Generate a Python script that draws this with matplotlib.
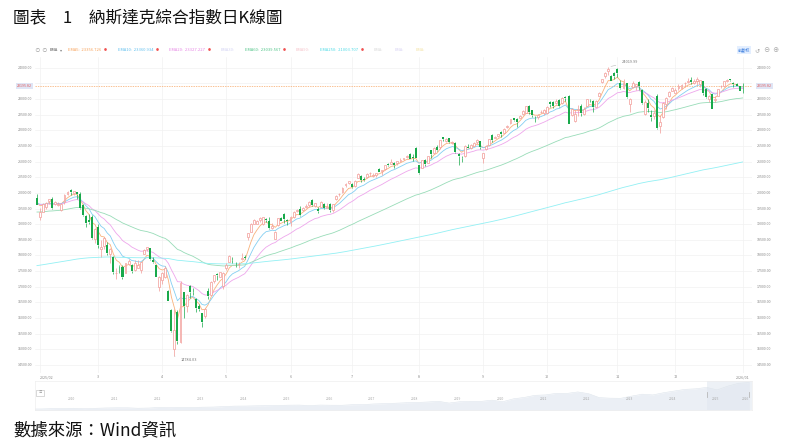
import matplotlib.pyplot as plt
import numpy as np
import pandas as pd
from matplotlib.patches import Rectangle

plt.rcParams['font.family'] = ['Noto Sans CJK TC', 'DejaVu Sans']

W, H = 793, 445

# trading days (NASDAQ calendar)
holidays = ['2025-02-17', '2025-04-18', '2025-05-26', '2025-06-19', '2025-07-04',
            '2025-09-01', '2025-11-27', '2025-12-25', '2026-01-01']

# daily candles: (open, high, low, close)
jan31 = [(19832, 19963, 19609, 19627)]
feb = [(19215, 19517, 19141, 19392), (19399, 19675, 19379, 19654), (19557, 19713, 19472, 19692),
       (19732, 19800, 19635, 19792), (19800, 19862, 19490, 19523), (19640, 19733, 19600, 19714),
       (19619, 19704, 19590, 19644), (19459, 19685, 19430, 19650), (19722, 19958, 19657, 19946),
       (19967, 20045, 19946, 20027), (20080, 20110, 19930, 20041), (19990, 20070, 19940, 20056),
       (20030, 20042, 19820, 19962), (19980, 20016, 19500, 19524), (19620, 19640, 19270, 19287),
       (19260, 19300, 18900, 19026), (19120, 19340, 18990, 19075), (19240, 19280, 18540, 18544),
       (18540, 18870, 18400, 18847)]
mar = [(18920, 18990, 18230, 18350), (18220, 18500, 17956, 18285), (18290, 18600, 18200, 18553),
       (18330, 18420, 18030, 18069), (18050, 18240, 17768, 18196), (17940, 17980, 17400, 17468),
       (17430, 17600, 17240, 17436), (17650, 17700, 17450, 17648), (17630, 17680, 17240, 17303),
       (17450, 17770, 17440, 17754), (17740, 17900, 17720, 17809), (17700, 17720, 17450, 17504),
       (17540, 17870, 17500, 17751), (17610, 17850, 17600, 17692), (17520, 17800, 17430, 17784),
       (18060, 18200, 18050, 18189), (18210, 18280, 18150, 18272), (18230, 18240, 17860, 17899),
       (17840, 17950, 17750, 17804), (17690, 17700, 17300, 17323), (17000, 17330, 16854, 17299)]
apr = [(17200, 17460, 17100, 17450), (17300, 17660, 17290, 17601), (16850, 16900, 16540, 16551),
       (16260, 16290, 15570, 15588), (15000, 16292, 14784.03, 15603), (16200, 16250, 15180, 15268),
       (15220, 17170, 15200, 17125), (16820, 16830, 16000, 16387), (16390, 16760, 16200, 16724),
       (17040, 17070, 16650, 16831), (16840, 16950, 16750, 16823), (16600, 16650, 16200, 16307),
       (16400, 16440, 16240, 16286), (16150, 16170, 15700, 15871), (16050, 16330, 16000, 16300),
       (16860, 16970, 16600, 16708), (16750, 17180, 16740, 17166), (17170, 17390, 17110, 17383),
       (17400, 17450, 17200, 17366), (17320, 17480, 17300, 17461), (17040, 17460, 16920, 17446)]
may = [(17600, 17760, 17550, 17711), (17800, 18010, 17790, 17978), (17860, 17940, 17770, 17844),
       (17700, 17780, 17640, 17690), (17720, 17800, 17600, 17738), (17900, 18070, 17840, 17928),
       (17960, 18000, 17880, 17929), (18600, 18720, 18500, 18708), (18750, 19040, 18740, 19010),
       (19020, 19170, 19000, 19147), (19020, 19130, 18990, 19112), (19140, 19220, 19060, 19211),
       (18990, 19230, 18980, 19215), (19170, 19190, 19080, 19143), (19100, 19220, 18850, 18873),
       (18870, 19030, 18860, 18926), (18530, 18770, 18520, 18737), (18960, 19200, 18930, 19199),
       (19210, 19240, 19090, 19101), (19330, 19350, 19050, 19176), (19140, 19170, 18970, 19114)]
jun = [(19060, 19250, 18950, 19243), (19240, 19420, 19200, 19399), (19430, 19490, 19400, 19460),
       (19480, 19580, 19250, 19298), (19450, 19550, 19420, 19530), (19560, 19640, 19520, 19591),
       (19600, 19740, 19560, 19715), (19760, 19810, 19570, 19616), (19570, 19680, 19560, 19662),
       (19480, 19560, 19370, 19407), (19550, 19740, 19540, 19701), (19650, 19670, 19500, 19521),
       (19530, 19680, 19520, 19546), (19640, 19680, 19400, 19447), (19460, 19640, 19400, 19631),
       (19800, 19940, 19770, 19913), (19960, 20010, 19890, 19974), (20030, 20190, 20000, 20168),
       (20240, 20310, 20180, 20273), (20330, 20390, 20270, 20370)]
jul = [(20280, 20330, 20150, 20203), (20210, 20400, 20200, 20393), (20490, 20620, 20480, 20601),
       (20550, 20570, 20340, 20413), (20440, 20500, 20380, 20418), (20500, 20650, 20480, 20611),
       (20630, 20660, 20530, 20631), (20530, 20620, 20500, 20586), (20560, 20650, 20520, 20640),
       (20760, 20800, 20660, 20678), (20690, 20740, 20560, 20730), (20750, 20900, 20740, 20886),
       (20930, 20950, 20860, 20896), (20930, 21080, 20920, 20974), (20970, 20980, 20780, 20893),
       (20960, 21030, 20880, 21020), (21030, 21110, 21000, 21058), (21070, 21110, 21040, 21108),
       (21140, 21200, 21100, 21179), (21250, 21290, 21070, 21098), (21150, 21240, 21010, 21130),
       (21450, 21460, 21100, 21122)]
aug = [(20880, 20890, 20600, 20650), (20790, 21060, 20780, 21054), (21040, 21080, 20870, 20917),
       (20960, 21190, 20940, 21169), (21370, 21380, 21100, 21243), (21290, 21460, 21280, 21450),
       (21460, 21520, 21350, 21385), (21480, 21690, 21400, 21682), (21780, 21800, 21650, 21713),
       (21650, 21740, 21630, 21711), (21750, 21760, 21600, 21623), (21600, 21660, 21570, 21630),
       (21600, 21620, 21260, 21315), (21250, 21260, 20900, 21173), (21130, 21190, 21000, 21100),
       (21170, 21540, 21150, 21497), (21470, 21560, 21440, 21449), (21420, 21560, 21400, 21544),
       (21500, 21620, 21490, 21590), (21630, 21720, 21550, 21705), (21660, 21670, 21410, 21456)]
sep = [(21130, 21290, 20970, 21280), (21400, 21530, 21380, 21498), (21530, 21710, 21510, 21708),
       (21840, 21880, 21620, 21700), (21760, 21820, 21740, 21799), (21820, 21880, 21770, 21879),
       (21960, 21980, 21800, 21886), (21920, 22060, 21900, 22043), (22090, 22180, 22070, 22141),
       (22220, 22350, 22200, 22349), (22380, 22390, 22310, 22334), (22350, 22400, 22100, 22261),
       (22400, 22500, 22380, 22471), (22530, 22650, 22500, 22631), (22560, 22790, 22550, 22789),
       (22790, 22800, 22520, 22573), (22640, 22650, 22440, 22498), (22390, 22450, 22250, 22385),
       (22420, 22520, 22350, 22484), (22570, 22650, 22540, 22591), (22550, 22670, 22490, 22660)]
oct_ = [(22560, 22770, 22530, 22755), (22890, 22920, 22750, 22844), (22900, 22940, 22700, 22781),
        (22880, 22990, 22840, 22942), (22980, 23000, 22740, 22788), (22870, 23050, 22850, 23043),
        (23070, 23090, 22930, 23025), (23080, 23140, 22200, 22204), (22500, 22700, 22460, 22695),
        (22300, 22650, 22250, 22522), (22660, 22800, 22450, 22670), (22780, 22830, 22460, 22563),
        (22520, 22750, 22490, 22680), (22780, 23010, 22770, 22991), (22980, 23000, 22890, 22954),
        (22950, 22980, 22590, 22740), (22760, 22960, 22740, 22942), (23110, 23230, 23090, 23205),
        (23530, 23650, 23520, 23637), (23720, 23850, 23680, 23827), (23890, 24019.99, 23780, 23958),
        (23740, 23780, 23560, 23581), (23830, 23860, 23650, 23725)]
nov = [(23960, 23990, 23700, 23835), (23500, 23600, 23330, 23349), (23350, 23650, 23310, 23500),
       (23500, 23510, 23030, 23054), (22850, 23020, 22600, 23005), (23370, 23560, 23350, 23527),
       (23420, 23480, 23280, 23468), (23540, 23560, 23290, 23406), (23300, 23320, 22840, 22870),
       (22520, 22980, 22500, 22901), (22880, 23000, 22600, 22708), (22500, 22640, 22300, 22433),
       (22470, 22650, 22350, 22564), (23110, 23150, 22050, 22078), (22150, 22500, 21900, 22273),
       (22420, 22900, 22400, 22872), (22850, 23050, 22680, 23026), (23100, 23250, 23060, 23215),
       (23260, 23370, 23250, 23366)]
dec = [(23200, 23350, 23180, 23276), (23350, 23480, 23300, 23414), (23350, 23480, 23330, 23454),
       (23500, 23550, 23390, 23505), (23530, 23680, 23510, 23578), (23620, 23690, 23480, 23546),
       (23520, 23630, 23490, 23576), (23570, 23700, 23450, 23654), (23480, 23620, 23370, 23594),
       (23560, 23570, 23120, 23195), (23320, 23340, 23020, 23057), (22990, 23140, 22900, 23111),
       (23150, 23170, 22690, 22693), (22970, 23080, 22900, 23006), (23090, 23330, 23080, 23308),
       (23400, 23450, 23340, 23429), (23400, 23570, 23380, 23562), (23560, 23630, 23530, 23613),
       (23630, 23650, 23560, 23593), (23500, 23540, 23380, 23474), (23470, 23500, 23400, 23419),
       (23420, 23430, 23240, 23242)]
jan02 = [(23430, 23520, 23180, 23410)]

# EMA settings: period, starting value read at the left edge, colour
ema_periods = [5, 10, 20, 60, 250]
ema_start = [19720, 19700, 19650, 19380, 17660]
ema_colors = ['#f9b27c', '#84cff2', '#eea6ec', '#98dcb8', '#92f0f4']

# legend row (text, colour, has value)
legend_items = [('EMA5:  23356.726', '#f7a35c', True), ('EMA10:  23360.934', '#5fbfee', True),
                ('EMA20:  23327.227', '#e685e4', True), ('EMA30:', '#d3d3f3', False),
                ('EMA60:  23039.567', '#4fc487', True), ('EMA90:', '#f6c4cb', False),
                ('EMA250:  21003.707', '#4fdbe6', True), ('EMA:', '#dadada', False),
                ('EMA:', '#d9d4f3', False), ('EMA:', '#f3e3a8', False)]
legend_x = [68, 118, 169, 221, 245, 296, 320, 374, 395, 416]

price_line_value = 23410
price_line_label = '23195.82'

month_labels = ['2025/02', '3', '4', '5', '6', '7', '8', '9', '10', '11', '12', '2026/01']

# navigator: long-run NASDAQ composite (quarterly)
nav_years = np.arange(2009.25, 2026.01, 0.25)
nav_values = [1800, 1850, 2100, 2250, 2400, 2110, 2370, 2650, 2780, 2770, 2420, 2600, 3090,
              2930, 3100, 3020, 3270, 3400, 3770, 4150, 4200, 4400, 4490, 4700, 4900, 4990,
              4620, 5000, 4870, 4840, 5310, 5380, 5910, 6140, 6500, 6900, 7060, 7510, 8050,
              6640, 7730, 8010, 8000, 8970, 7700, 10060, 11170, 12890, 13250, 14500, 14450,
              15640, 14220, 11030, 10580, 10470, 12220, 13790, 13220, 15010, 16380, 17730,
              18190, 19310, 17300, 20370, 22660, 23240]
nav_year_labels = [str(y) for y in range(2010, 2027)]

UP = '#f29a96'
DOWN = '#19a94b'

dates = pd.bdate_range('2025-01-31', '2026-01-02')
dates = dates[~dates.isin(pd.to_datetime(holidays))]
ohlc = np.array(jan31 + feb + mar + apr + may + jun + jul + aug + sep + oct_ + nov + dec + jan02,
                dtype=float)
opens, highs, lows, closes = ohlc.T
x = np.arange(len(closes))
month_idx = [i for i in range(1, len(dates)) if dates[i].month != dates[i - 1].month]


def fx(px):
    return px / W


def fy(py):
    return 1 - py / H


fig = plt.figure(figsize=(W / 100, H / 100), dpi=100)
ax = fig.add_axes([fx(35), fy(373), fx(752) - fx(35), fy(57) - fy(373)])
ax.set_xlim(-0.64, 234.06)
ax.set_ylim(14244, 24342)
for s in ax.spines.values():
    s.set_visible(False)
ax.set_yticks(np.arange(14500, 24001, 500))
ax.set_xticks(month_idx)
ax.grid(color='#f2f2f2', lw=0.5)
ax.tick_params(length=0, labelleft=False, labelbottom=False)
ax.set_axisbelow(True)

# EMA lines
for n, start, col in zip(ema_periods, ema_start, ema_colors):
    ema = pd.Series([start] + list(closes)).ewm(span=n, adjust=False).mean().values[1:]
    ax.plot(x, ema, color=col, lw=0.6, zorder=2)

# candles
up = closes >= opens
top = np.maximum(opens, closes)
bot = np.minimum(opens, closes)
cols = np.where(up, UP, DOWN)
ax.vlines(x, top, highs, colors=cols, lw=0.5, zorder=3)
ax.vlines(x, lows, bot, colors=cols, lw=0.5, zorder=3)
body = np.maximum(top - bot, 8)
ax.bar(x[up], body[up], bottom=bot[up], width=0.62, facecolor='white', edgecolor=UP,
       linewidth=0.5, zorder=4)
ax.bar(x[~up], body[~up], bottom=bot[~up], width=0.66, color=DOWN, linewidth=0, zorder=4)

# last price line
ax.axhline(price_line_value, color='#f7a868', lw=0.5, ls=(0, (2, 1.5)), zorder=1)
ytr = ax.get_yaxis_transform()
for xa, ha in [(-0.004, 'right'), (1.007, 'left')]:
    ax.text(xa, price_line_value, price_line_label, transform=ytr, ha=ha, va='center',
            fontsize=2.6, color='#e25a5a', clip_on=False,
            bbox=dict(boxstyle='square,pad=0.35', fc='#dfe5f5', ec='none'))

# y tick labels on both sides
for v in np.arange(14500, 24001, 500):
    if abs(v - price_line_value) < 120:
        continue
    ax.text(-0.004, v, f'{v:.2f}', transform=ytr, ha='right', va='center', fontsize=2.6,
            color='#888888', clip_on=False)
    ax.text(1.007, v, f'{v:.2f}', transform=ytr, ha='left', va='center', fontsize=2.6,
            color='#888888', clip_on=False)

# month labels
xtr = ax.get_xaxis_transform()
for k, (i, lab) in enumerate(zip([1] + month_idx[1:], month_labels)):
    ax.text(i, -0.013, lab, transform=xtr, ha='left' if k == 0 else 'center', va='center',
            fontsize=2.7, color='#888888', clip_on=False)

# max / min markers
ihi = int(np.argmax(highs))
ilo = int(np.argmin(lows))
ax.annotate(f'{highs[ihi]:.2f}', xy=(ihi, highs[ihi]), xytext=(ihi + 4.3, highs[ihi] + 160),
            fontsize=2.8, color='#777777', va='center', ha='left',
            arrowprops=dict(arrowstyle='-', color='#bbbbbb', lw=0.4))
ax.annotate(f'{lows[ilo]:.2f}', xy=(ilo, lows[ilo]), xytext=(ilo + 2.0, lows[ilo] - 130),
            fontsize=2.8, color='#777777', va='center', ha='left',
            arrowprops=dict(arrowstyle='-', color='#bbbbbb', lw=0.4))

# navigator
nav = fig.add_axes([fx(35), fy(410), fx(752) - fx(35), fy(381) - fy(410)])
nav.set_xlim(2009.345, 2026.06)
nav.set_ylim(1000, 24500)
nav.fill_between(nav_years, nav_values, 0, color='#ebeff5', lw=0)
nav.plot(nav_years, nav_values, color='#dde4ec', lw=0.4)
nav.axvspan(2025.0, 2026.06, color='#e2e8f0', alpha=0.6, lw=0)
for s in nav.spines.values():
    s.set_color('#eeeeee')
    s.set_linewidth(0.5)
nav.set_xticks([])
nav.set_yticks([])
for k, lab in enumerate(nav_year_labels):
    xv = 2010.2 + k
    nav.text(min(xv, 2026.0), 0.38, lab, transform=nav.get_xaxis_transform(),
             ha='right' if xv > 2026.0 else 'center', va='center', fontsize=2.4,
             color='#a8a8a8')
for xv in (2025.0, 2026.0):
    nav.plot([xv, xv], [0.45, 0.62], transform=nav.get_xaxis_transform(), color='#b8b8b8',
             lw=0.6)
nav.add_patch(Rectangle((0.0015, 0.5), 0.011, 0.2, transform=nav.transAxes, fc='white',
                        ec='#bbbbbb', lw=0.4))
nav.text(0.007, 0.6, '≡', transform=nav.transAxes, ha='center', va='center', fontsize=2.5,
         color='#999999')

# toolbar / legend row
fig.text(fx(37), fy(50), '⊙', fontsize=4, color='#aaaaaa', ha='center', va='center')
fig.text(fx(44.5), fy(50), '⊙', fontsize=4, color='#aaaaaa', ha='center', va='center')
fig.text(fx(50), fy(50), 'EMA', fontsize=3, color='#555555', ha='left', va='center')
fig.text(fx(60), fy(50), '▾', fontsize=3, color='#888888', ha='left', va='center')
renderer = fig.canvas.get_renderer()
for (txt, col, has_val), px in zip(legend_items, legend_x):
    t = fig.text(fx(px), fy(50), txt, fontsize=3, color=col, ha='left', va='center')
    if has_val:
        bb = t.get_window_extent(renderer)
        fig.text(fx(bb.x1 + 2.5), fy(50), '●', fontsize=2.2, color='#f05050',
                 ha='left', va='center')

fig.text(fx(744), fy(50), '前复权', fontsize=3, color='#3b7ddd', ha='center', va='center',
         family=['Noto Sans CJK SC', 'DejaVu Sans'],
         bbox=dict(boxstyle='square,pad=0.3', fc='#e4efff', ec='none'))
for px, sym in [(757, '↺'), (766, '⊖'), (775, '⊕')]:
    fig.text(fx(px), fy(50), sym, fontsize=4.5, color='#aaaaaa', ha='center', va='center')

# title and source
fig.text(fx(13), fy(18), '圖表\u30001\u3000納斯達克綜合指數日K線圖', fontsize=12, ha='left',
         va='center', color='#111111')
fig.text(fx(13), fy(430), '數據來源：Wind資訊', fontsize=12.5, ha='left', va='center',
         color='#111111', style='italic')

fig.savefig('out.png', dpi=100)
